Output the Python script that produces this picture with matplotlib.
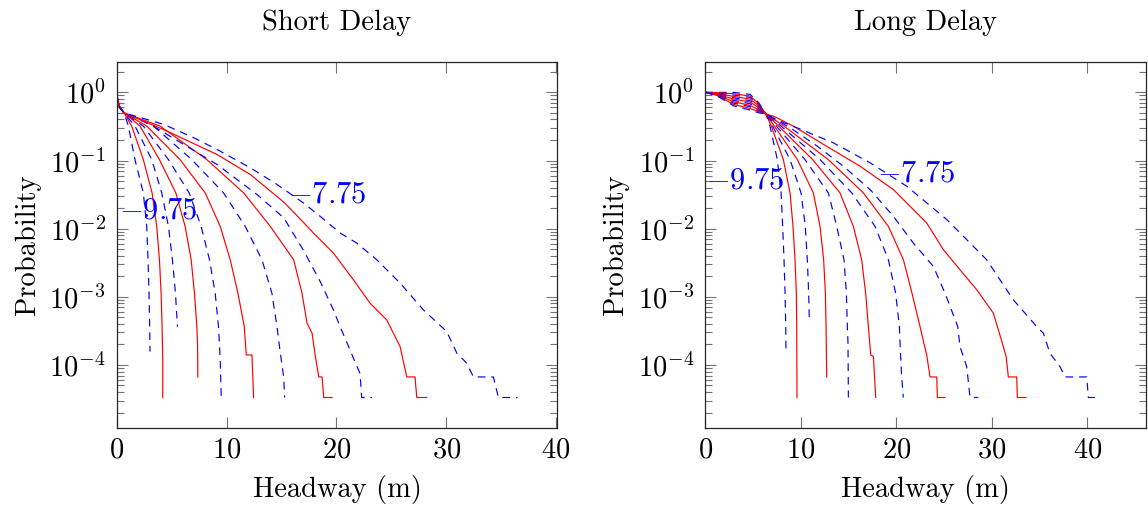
import numpy as np
import matplotlib
matplotlib.use("Agg")
import matplotlib.pyplot as plt

plt.rcParams['font.family'] = 'cmr10'
plt.rcParams['mathtext.fontset'] = 'cm'
plt.rcParams['axes.formatter.use_mathtext'] = True
plt.rcParams['axes.unicode_minus'] = False

# curve parameters (first and last are labelled)
params = [-9.75, -9.55, -9.35, -9.15, -8.95, -8.75, -8.55, -8.35, -8.15, -7.95, -7.75]

# ---- Short Delay: all curves share the first drop near zero
short_head_x = [0.0, 0.05, 0.25, 0.65]
short_head_p = [1.0, 0.80, 0.60, 0.50]

short_x = [
    [1.04, 1.64, 2.40, 2.71, 2.83, 2.92, 2.98, 3.01],
    [1.34, 2.40, 3.20, 3.62, 3.87, 4.02, 4.11, 4.17, 4.17],
    [1.64, 3.17, 4.08, 4.69, 5.05, 5.33, 5.51],
    [2.10, 3.87, 5.36, 6.21, 6.76, 7.06, 7.28, 7.34, 7.37],
    [2.40, 4.69, 6.58, 7.67, 8.43, 8.95, 9.25, 9.41, 9.50],
    [2.71, 5.75, 8.04, 9.41, 10.32, 11.02, 11.60, 11.78, 12.30, 12.45],
    [3.32, 6.82, 9.71, 11.69, 13.21, 14.12, 14.58, 14.89, 15.19, 15.28],
    [3.93, 8.19, 11.54, 13.97, 16.10, 16.86, 17.32, 17.78, 18.08, 18.39, 18.69, 18.84, 19.60],
    [3.04, 6.08, 9.12, 12.77, 15.20, 17.00, 18.54, 19.72, 20.33, 21.24, 21.74, 22.15, 22.30, 23.26],
    [4.56, 9.12, 12.16, 15.20, 16.41, 17.90, 19.72, 21.54, 23.06, 24.58, 25.80, 26.41, 27.16, 27.32, 28.23],
    [4.26, 6.99, 9.12, 12.16, 14.59, 16.98, 18.51, 20.33, 21.85, 23.67, 25.80, 27.92, 30.05, 30.97,
     31.88, 32.48, 34.30, 34.76, 36.50],
]
short_p = [
    [0.320, 0.103, 0.0335, 0.0108, 0.0035, 0.00113, 0.000366, 0.000157],
    [0.320, 0.103, 0.0335, 0.0108, 0.0035, 0.00113, 0.000366, 0.000119, 3.33e-5],
    [0.320, 0.103, 0.0335, 0.0108, 0.0035, 0.00113, 0.000366],
    [0.320, 0.103, 0.0335, 0.0108, 0.0035, 0.00113, 0.000366, 0.000208, 6.67e-5],
    [0.320, 0.103, 0.0335, 0.0108, 0.0035, 0.00113, 0.000366, 0.000119, 3.33e-5],
    [0.320, 0.103, 0.0335, 0.0108, 0.0035, 0.00113, 0.000366, 0.00014, 0.00014, 3.33e-5],
    [0.320, 0.103, 0.0335, 0.0108, 0.0035, 0.00113, 0.000366, 0.000148, 6.67e-5, 3.33e-5],
    [0.320, 0.103, 0.0335, 0.0108, 0.0035, 0.00113, 0.00041, 0.000292, 0.000133, 6.67e-5, 6.67e-5,
     3.33e-5, 3.33e-5],
    [0.339, 0.172, 0.0873, 0.0316, 0.0144, 0.0048, 0.00165, 0.000644, 0.000366, 0.000166, 0.000106,
     7.5e-5, 3.33e-5, 3.33e-5],
    [0.270, 0.1225, 0.0622, 0.0245, 0.0155, 0.00865, 0.00439, 0.00178, 0.000807, 0.000459, 0.000186,
     6.67e-5, 6.67e-5, 3.33e-5, 3.33e-5],
    [0.339, 0.216, 0.145, 0.078, 0.0444, 0.0239, 0.0152, 0.00865, 0.00615, 0.0035, 0.00159, 0.000644,
     0.000309, 0.000149, 0.000106, 6.67e-5, 6.67e-5, 3.33e-5, 3.33e-5],
]

# ---- Long Delay: curves cross near 6.3 m
long_head_x = [0.0, 1.19, 2.94, 4.68, 5.60, 6.35]
long_head_p = [
    [1.0, 1.0, 1.0, 0.9347, 0.7047, 0.48],
    [1.0, 0.9888, 0.9559, 0.8834, 0.6812, 0.48],
    [1.0, 0.9777, 0.9137, 0.8443, 0.6585, 0.48],
    [1.0, 0.9667, 0.8734, 0.7981, 0.6365, 0.48],
    [1.0, 0.9559, 0.8348, 0.7541, 0.6153, 0.48],
    [1.0, 0.9452, 0.7981, 0.7208, 0.5948, 0.48],
    [1.0, 0.9346, 0.7627, 0.6812, 0.5750, 0.48],
    [1.0, 0.9241, 0.7291, 0.6437, 0.5558, 0.48],
    [1.0, 0.9137, 0.6968, 0.6152, 0.5372, 0.48],
    [1.0, 0.9035, 0.6660, 0.5814, 0.5193, 0.48],
    [1.0, 0.8934, 0.6365, 0.5494, 0.5019, 0.48],
]
long_x = [
    [6.77, 7.54, 7.93, 8.10, 8.24, 8.35, 8.42, 8.45],
    [6.91, 8.17, 8.87, 9.18, 9.39, 9.53, 9.57, 9.60],
    [7.05, 8.87, 10.02, 10.47, 10.68, 10.82, 10.89],
    [7.23, 9.64, 11.31, 12.01, 12.39, 12.57, 12.64, 12.71],
    [7.44, 10.44, 12.88, 13.76, 14.52, 14.77, 14.87, 14.94, 14.98],
    [7.68, 11.24, 14.10, 15.50, 16.37, 16.79, 17.07, 17.32, 17.60, 17.84],
    [7.93, 12.01, 15.33, 17.77, 19.17, 19.93, 20.32, 20.42, 20.56, 20.73],
    [8.24, 12.88, 16.55, 19.17, 20.74, 21.64, 22.48, 23.18, 23.53, 24.23, 24.30, 25.10],
    [8.87, 11.73, 14.45, 17.25, 19.69, 21.78, 23.88, 25.10, 26.43, 26.67, 27.37, 27.72, 28.59],
    [7.12, 9.21, 12.70, 16.20, 19.69, 23.18, 24.93, 26.67, 28.42, 30.16, 31.00, 31.50, 31.73, 32.61,
     32.67, 33.58],
    [7.82, 9.57, 13.40, 17.25, 21.09, 25.28, 29.46, 32.25, 34.70, 35.40, 36.09, 37.14, 37.67, 39.94,
     40.11, 41.16],
]
long_p = [
    [0.320, 0.103, 0.0335, 0.0108, 0.0035, 0.00113, 0.000366, 0.000148],
    [0.320, 0.103, 0.0335, 0.0108, 0.0035, 0.00113, 0.000366, 3.33e-5],
    [0.320, 0.103, 0.0335, 0.0108, 0.0035, 0.00113, 0.000459],
    [0.320, 0.103, 0.0335, 0.0108, 0.0035, 0.00113, 0.000366, 6.67e-5],
    [0.320, 0.103, 0.0335, 0.0108, 0.0035, 0.00113, 0.000366, 0.000208, 3.33e-5],
    [0.320, 0.103, 0.0335, 0.0108, 0.0035, 0.00113, 0.000366, 0.00014, 0.000133, 3.33e-5],
    [0.320, 0.103, 0.0335, 0.0108, 0.0035, 0.00113, 0.000366, 0.000166, 6.67e-5, 3.33e-5],
    [0.320, 0.103, 0.0335, 0.0108, 0.0035, 0.00113, 0.000366, 0.00014, 6.67e-5, 6.67e-5, 3.33e-5, 3.33e-5],
    [0.303, 0.162, 0.0826, 0.0375, 0.0152, 0.00615, 0.00279, 0.00113, 0.000366, 0.000186, 9.45e-5,
     3.33e-5, 3.33e-5],
    [0.449, 0.320, 0.162, 0.0826, 0.0375, 0.0121, 0.00491, 0.00249, 0.00127, 0.000575, 0.000233,
     0.000133, 6.67e-5, 6.67e-5, 3.33e-5, 3.33e-5],
    [0.378, 0.303, 0.182, 0.0925, 0.0419, 0.0136, 0.0035, 0.000904, 0.000366, 0.000292, 0.000148,
     9.45e-5, 6.67e-5, 6.67e-5, 3.33e-5, 3.33e-5],
]

FS = 20.5
RED = '#ff0000'
BLUE = '#0000ff'

fig = plt.figure(figsize=(11.48, 5.11), dpi=100)
ax1 = fig.add_axes([0.1019, 0.1630, 0.3833, 0.7157])
ax2 = fig.add_axes([0.6144, 0.1630, 0.3839, 0.7157])


def style(ax, title, xmax):
    ax.set_yscale('log')
    ax.set_xlim(0, xmax)
    ax.set_ylim(1.2e-5, 2.79)
    ax.set_xticks([0, 10, 20, 30, 40])
    ax.set_yticks([1e-4, 1e-3, 1e-2, 1e-1, 1e0])
    ax.tick_params(which='both', direction='in', top=True, right=True,
                   color='0.45', labelsize=FS, width=0.8)
    ax.tick_params(which='major', length=7.7)
    ax.tick_params(which='minor', length=5.3)
    ax.tick_params(axis='y', pad=8)
    ax.tick_params(axis='x', pad=7)
    ax.yaxis.set_minor_locator(matplotlib.ticker.LogLocator(base=10, subs=np.arange(2, 10), numticks=20))
    ax.yaxis.set_minor_formatter(matplotlib.ticker.NullFormatter())
    for s in ax.spines.values():
        s.set_linewidth(0.9)
        s.set_color('0.15')
    ax.set_title(title, fontsize=FS, pad=23)
    ax.set_xlabel('Headway (m)', fontsize=FS, labelpad=8)
    ax.set_ylabel('Probability', fontsize=FS, labelpad=6)


for i in range(len(params)):
    dashed = (i % 2 == 0)
    col = BLUE if dashed else RED
    ls = (0, (6.5, 5)) if dashed else '-'
    xs = short_head_x + short_x[i]
    ps = short_head_p + short_p[i]
    ax1.plot(xs, ps, color=col, linestyle=ls, linewidth=0.85)
    xs = long_head_x + long_x[i]
    ps = long_head_p[i] + long_p[i]
    ax2.plot(xs, ps, color=col, linestyle=ls, linewidth=0.85)

style(ax1, 'Short Delay', 40.1)
style(ax2, 'Long Delay', 46.15)

ax1.text(3.77, 0.018, '$%.2f$' % params[0], color=BLUE, fontsize=22, ha='center', va='center')
ax1.text(19.2, 0.0310, '$%.2f$' % params[-1], color=BLUE, fontsize=22, ha='center', va='center')
ax2.text(4.23, 0.0501, '$%.2f$' % params[0], color=BLUE, fontsize=22, ha='center', va='center')
ax2.text(22.1, 0.0646, '$%.2f$' % params[-1], color=BLUE, fontsize=22, ha='center', va='center')

fig.savefig('out.png', dpi=100)
